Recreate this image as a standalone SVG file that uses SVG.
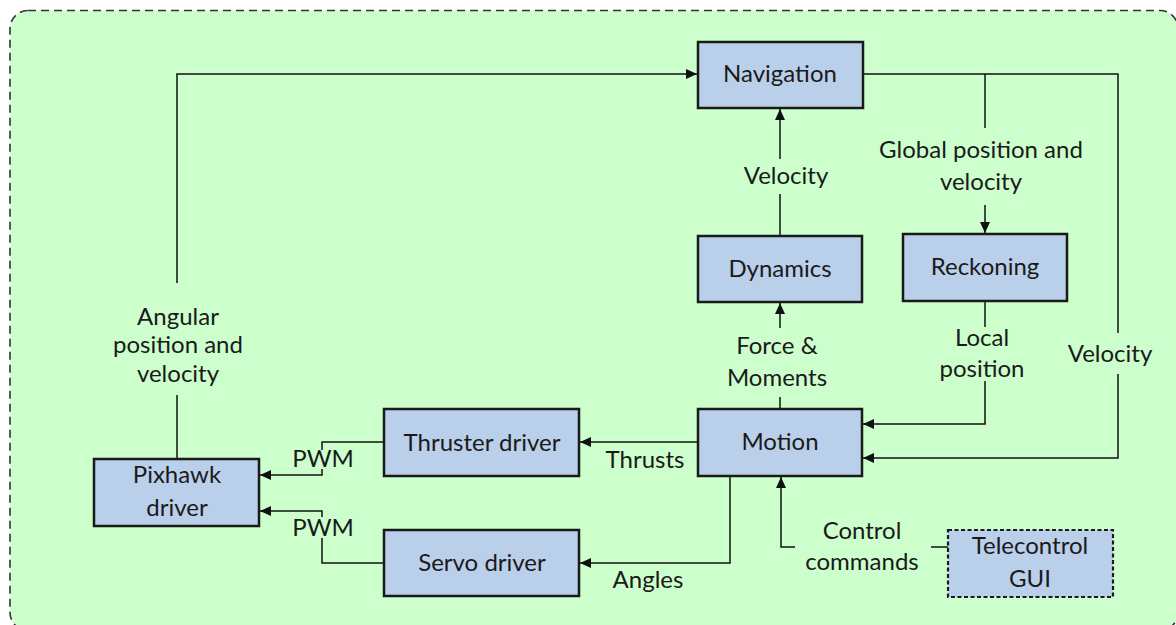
<svg xmlns="http://www.w3.org/2000/svg" width="1176" height="625" viewBox="0 0 1176 625">
  <style>
    .frame { fill: #ccffcc; stroke: #333333; stroke-width: 1.6; stroke-dasharray: 8 5; }
    .box { fill: #bacfea; stroke: #1a1a1a; stroke-width: 2.5; }
    .box-ext { fill: #bacfea; stroke: #1a1a1a; stroke-width: 2.2; stroke-dasharray: 4 2.5; }
    .lbl { font-family: Lato, "Open Sans", sans-serif; font-size: 24px; fill: #1a1a1a; text-anchor: middle; }
    .wire { fill: none; stroke: #111111; stroke-width: 1.5; }
    .wire-a { fill: none; stroke: #111111; stroke-width: 1.5; marker-end: url(#arrow); }
  </style>
  <defs>
    <marker id="arrow" markerUnits="userSpaceOnUse" markerWidth="12" markerHeight="10" refX="11" refY="5" orient="auto">
      <path d="M0,0 L11,5 L0,10 Z" fill="#111111"/>
    </marker>
  </defs>

  <!-- system boundary -->
  <rect class="frame" x="10" y="10.5" width="1168" height="620" rx="18" ry="18"/>

  <!-- connectors -->
  <g id="connectors">
    <!-- Pixhawk -> Navigation -->
    <path class="wire" d="M177 459 V395"/>
    <path class="wire-a" d="M177 283 V74 H697"/>
    <!-- Dynamics -> Navigation -->
    <path class="wire" d="M780 236 V194"/>
    <path class="wire-a" d="M780 159 V109"/>
    <!-- Navigation -> Reckoning / Motion -->
    <path class="wire" d="M863 74 H1118 V333"/>
    <path class="wire-a" d="M1118 374 V458 H863"/>
    <path class="wire" d="M985 74 V128"/>
    <path class="wire-a" d="M985 205 V233"/>
    <!-- Reckoning -> Motion -->
    <path class="wire" d="M985 301 V327"/>
    <path class="wire-a" d="M985 381 V424 H863"/>
    <!-- Motion -> Dynamics -->
    <path class="wire" d="M780 409 V397"/>
    <path class="wire-a" d="M780 328 V303"/>
    <!-- Motion -> Thruster driver -->
    <path class="wire-a" d="M698 442 H580"/>
    <!-- Motion -> Servo driver -->
    <path class="wire-a" d="M730 476 V563 H580"/>
    <!-- Telecontrol -> Motion -->
    <path class="wire-a" d="M795 547 H781 V477"/>
    <path class="wire" d="M931 547 H948"/>
    <!-- drivers -> Pixhawk -->
    <path class="wire" d="M384 442 H322 V450"/>
    <path class="wire-a" d="M322 469 V475 H260"/>
    <path class="wire" d="M384 563 H322 V538"/>
    <path class="wire-a" d="M322 517 V511 H260"/>
  </g>

  <!-- connector labels -->
  <g id="labels">
    <text class="lbl" x="178" y="325">Angular</text>
    <text class="lbl" x="178" y="353">position and</text>
    <text class="lbl" x="178" y="382">velocity</text>
    <text class="lbl" x="786" y="184">Velocity</text>
    <text class="lbl" x="981" y="158">Global position and</text>
    <text class="lbl" x="981" y="190">velocity</text>
    <text class="lbl" x="777" y="354">Force &amp;</text>
    <text class="lbl" x="777" y="386">Moments</text>
    <text class="lbl" x="982" y="346">Local</text>
    <text class="lbl" x="982" y="377">position</text>
    <text class="lbl" x="1110" y="362">Velocity</text>
    <text class="lbl" x="645" y="468">Thrusts</text>
    <text class="lbl" x="648" y="588">Angles</text>
    <text class="lbl" x="862" y="539">Control</text>
    <text class="lbl" x="862" y="570">commands</text>
    <text class="lbl" x="323" y="467">PWM</text>
    <text class="lbl" x="323" y="536">PWM</text>
  </g>

  <!-- nodes -->
  <g id="navigation">
    <rect class="box" x="698" y="42" width="165" height="66"/>
    <text class="lbl" x="780" y="82">Navigation</text>
  </g>
  <g id="dynamics">
    <rect class="box" x="698" y="236" width="164" height="66"/>
    <text class="lbl" x="780" y="277">Dynamics</text>
  </g>
  <g id="reckoning">
    <rect class="box" x="903" y="234" width="164" height="67"/>
    <text class="lbl" x="985" y="275">Reckoning</text>
  </g>
  <g id="motion">
    <rect class="box" x="698" y="409" width="164" height="67"/>
    <text class="lbl" x="780" y="450">Motion</text>
  </g>
  <g id="thruster-driver">
    <rect class="box" x="384" y="409" width="195" height="67"/>
    <text class="lbl" x="482" y="451">Thruster driver</text>
  </g>
  <g id="servo-driver">
    <rect class="box" x="384" y="530" width="195" height="66"/>
    <text class="lbl" x="482" y="571">Servo driver</text>
  </g>
  <g id="pixhawk-driver">
    <rect class="box" x="94" y="459" width="165" height="67"/>
    <text class="lbl" x="177" y="483">Pixhawk</text>
    <text class="lbl" x="177" y="516">driver</text>
  </g>
  <g id="telecontrol-gui">
    <rect class="box-ext" x="948" y="530" width="165" height="67"/>
    <text class="lbl" x="1030" y="554">Telecontrol</text>
    <text class="lbl" x="1030" y="587">GUI</text>
  </g>
</svg>
